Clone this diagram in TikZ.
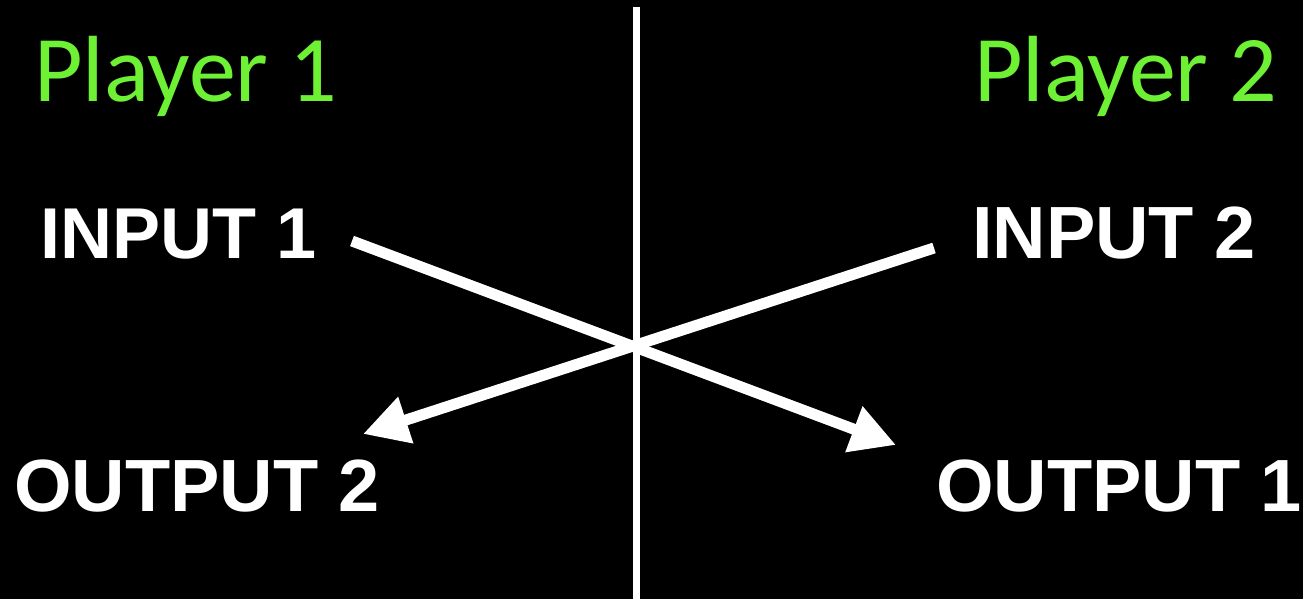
\documentclass[tikz,border=0pt]{standalone}
\usepackage{fontspec}
\usepackage{tikz}
\usetikzlibrary{arrows.meta,positioning}
\newfontfamily\playerfont{Carlito}
\newfontfamily\ioFont{Liberation Sans}
\definecolor{playergreen}{RGB}{110,240,52}

\begin{document}
\begin{tikzpicture}[x=1pt,y=-1pt,
  player/.style={text=playergreen,inner sep=0,anchor=base west,font=\playerfont\fontsize{94}{100}\selectfont},
  io/.style={text=white,inner sep=0,anchor=base west,font=\ioFont\bfseries\fontsize{74}{80}\selectfont},
  arr/.style={draw=white,line width=11pt,-{Triangle[length=45pt,width=46pt]}}]
\fill[black] (0,0) rectangle (1303,599);
\useasboundingbox (0,0) rectangle (1303,599);
\draw[white,line width=7pt] (636.5,7) -- (636.5,599);
\node[player] (p1) at (34,102) {Player 1};
\node[player] (p2) at (974,102) {Player 2};
\node[io,font=\ioFont\bfseries\fontsize{72}{80}\selectfont] (in1) at (40,258) {INPUT 1};
\node[io] (in2) at (972,258) {INPUT 2};
\node[io] (out2) at (14,511) {OUTPUT 2};
\node[io] (out1) at (936,511) {OUTPUT 1};
\coordinate (in1end) at (352,241);
\coordinate (in2end) at (934,248);
\coordinate (out1tip) at (896,445);
\coordinate (out2tip) at (363,434);
\draw[arr] (in1end) -- (out1tip);
\draw[arr] (in2end) -- (out2tip);
\end{tikzpicture}
\end{document}
